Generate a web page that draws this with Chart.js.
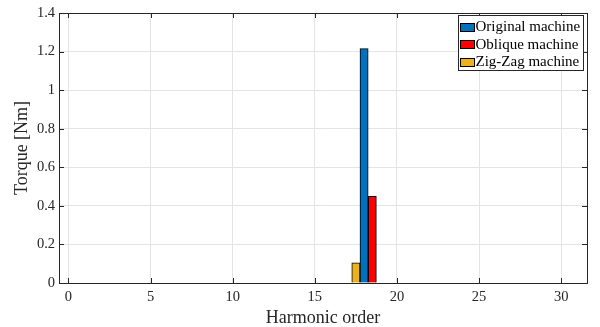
<!DOCTYPE html>
<html><head><meta charset="utf-8">
<script src="https://cdn.jsdelivr.net/npm/chart.js@4.4.1/dist/chart.umd.min.js"></script>
<style>html,body{margin:0;padding:0;background:#fff}#wrap{width:600px;height:327px}</style>
</head><body><div id="wrap"><canvas id="c" width="600" height="327"></canvas></div>
<script>
// ---- data ----
const harmonic = [18];
const zigzagTorque = [0.104];
const originalTorque = [1.215];
const obliqueTorque = [0.449];
const seriesNames = ['Zig-Zag machine', 'Original machine', 'Oblique machine'];
const seriesColors = ['#EDB120', '#0072BD', '#FF0000'];
const legendOrder = ['Original machine', 'Oblique machine', 'Zig-Zag machine'];
const xTicks = [0, 5, 10, 15, 20, 25, 30];
const yTicks = [0, 0.2, 0.4, 0.6, 0.8, 1, 1.2, 1.4];
const yTickLabels = ['0', '0.2', '0.4', '0.6', '0.8', '1', '1.2', '1.4'];
const xTitle = 'Harmonic order';
const yTitle = 'Torque [Nm]';

const AX = '#262626';
const FONT = '"Liberation Serif", "Times New Roman", serif';

const seriesValues = [zigzagTorque, originalTorque, obliqueTorque];
const datasets = seriesNames.map((name, k) => ({
  label: name,
  data: harmonic.map((h, i) => ({ x: h, y: seriesValues[k][i] })),
  backgroundColor: seriesColors[k],
  borderColor: '#000',
  borderWidth: 1,
  barThickness: 8.2,
}));

const boxPlugin = {
  id: 'matlabBox',
  afterDraw(chart) {
    const ctx = chart.ctx, a = chart.chartArea;
    const xs = chart.scales.x, ys = chart.scales.y;
    ctx.save();
    ctx.strokeStyle = AX;
    ctx.lineWidth = 1;
    // inside ticks
    ctx.beginPath();
    xTicks.forEach(v => {
      const px = Math.round(xs.getPixelForValue(v)) + 0.5;
      ctx.moveTo(px, a.bottom); ctx.lineTo(px, a.bottom - 5);
      ctx.moveTo(px, a.top); ctx.lineTo(px, a.top + 5);
    });
    yTicks.forEach(v => {
      const py = Math.round(ys.getPixelForValue(v)) + 0.5;
      ctx.moveTo(a.left, py); ctx.lineTo(a.left + 5, py);
      ctx.moveTo(a.right, py); ctx.lineTo(a.right - 5, py);
    });
    ctx.stroke();
    // box
    ctx.strokeRect(Math.round(a.left) + 0.5, Math.round(a.top) + 0.5,
      Math.round(a.right - a.left), Math.round(a.bottom - a.top));
    // legend
    const lx = Math.round(a.right) - 129 + 0.5, ly = Math.round(a.top) + 2 + 0.5;
    const lw = 125, lh = 55;
    ctx.fillStyle = '#fff';
    ctx.fillRect(lx, ly, lw, lh);
    ctx.strokeStyle = AX;
    ctx.strokeRect(lx, ly, lw, lh);
    ctx.font = '15px ' + FONT;
    ctx.textBaseline = 'middle';
    ctx.textAlign = 'left';
    legendOrder.forEach((name, r) => {
      const k = seriesNames.indexOf(name);
      const cy = ly + 11.5 + r * 17.3;
      ctx.fillStyle = seriesColors[k];
      ctx.fillRect(lx + 2, Math.round(cy - 4) + 0.5, 14, 8);
      ctx.strokeStyle = '#000';
      ctx.strokeRect(lx + 2, Math.round(cy - 4) + 0.5, 14, 8);
      ctx.fillStyle = '#000';
      ctx.fillText(name, lx + 17, cy + 0.5);
    });
    ctx.restore();
  }
};

new Chart(document.getElementById('c'), {
  type: 'bar',
  data: { datasets },
  options: {
    responsive: false,
    devicePixelRatio: 1,
    animation: false,
    layout: { padding: { left: 0, top: 13, right: 13, bottom: 0 } },
    plugins: { legend: { display: false }, tooltip: { enabled: false } },
    scales: {
      x: {
        type: 'linear',
        min: -0.57, max: 31.57,
        offset: false,
        afterBuildTicks: s => { s.ticks = xTicks.map(v => ({ value: v })); },
        afterFit: s => { s.height = 44; },
        grid: { color: '#e4e4e4', drawTicks: false, offset: false },
        border: { display: true, color: AX },
        ticks: { color: AX, font: { family: FONT, size: 14.5 }, padding: 5, maxRotation: 0, autoSkip: false,
          callback: v => String(v) },
        title: { display: true, text: xTitle, color: AX, font: { family: FONT, size: 18, lineHeight: 1 }, padding: { top: 0, bottom: 0 } }
      },
      y: {
        min: 0, max: 1.4,
        afterBuildTicks: s => { s.ticks = yTicks.map(v => ({ value: v })); },
        afterFit: s => { s.width = 59; },
        grid: { color: '#e4e4e4', drawTicks: false },
        border: { display: true, color: AX },
        ticks: { color: AX, font: { family: FONT, size: 14.5 }, padding: 4, autoSkip: false,
          callback: (v) => { const i = yTicks.findIndex(t => Math.abs(t - v) < 1e-9); return i >= 0 ? yTickLabels[i] : ''; } },
        title: { display: true, text: yTitle, color: AX, font: { family: FONT, size: 18, lineHeight: 1 }, padding: { top: 13, bottom: 0 } }
      }
    }
  },
  plugins: [boxPlugin]
});
</script></body></html>
